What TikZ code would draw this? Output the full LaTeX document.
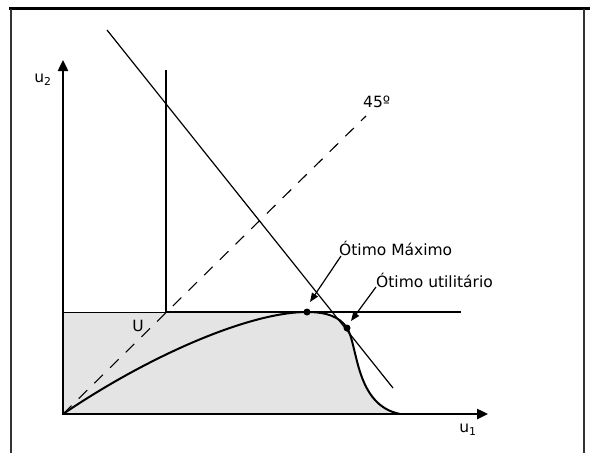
\documentclass[tikz,border=0pt]{standalone}
\usepackage{fontspec}
\setmainfont{DejaVu Sans}
\usetikzlibrary{arrows.meta,positioning}
\definecolor{FeasFill}{HTML}{E4E4E4}

\begin{document}
\begin{tikzpicture}[x=1pt,y=-1pt,font=\fontsize{15.5}{18}\selectfont]
    \tikzset{ax/.style={line width=2.4pt,-{Triangle[length=11pt,width=10pt]}},
      lbl/.style={inner sep=1pt},
      pt/.style={circle,fill=black,inner sep=0pt,minimum size=7pt},
      ptr/.style={line width=1.2pt,-{Triangle[length=9pt,width=7pt]}}}
    \useasboundingbox (0,0) rectangle (590,453);
    % frame
    \draw[line width=3pt] (9,8) -- (590,8);
    \draw[line width=1.6pt,black!80] (11,9) -- (11,453) (584,9) -- (584,453);
    % points
    \coordinate (O) at (63,414);
    \coordinate (Ytop) at (63,60);
    \coordinate (Xend) at (488,414);
    \coordinate (Ul) at (63,312);
    \coordinate (K) at (166,312);
    \coordinate (Kt) at (166,70);
    \coordinate (Kr) at (461,312);
    \coordinate (Lt) at (107,30);
    \coordinate (Lb) at (393,388);
    \coordinate (D) at (366,116);
    \coordinate (F) at (400,414);
    % feasible set
    \fill[FeasFill] (O) -- (Ul) -- (307,312)
      .. controls (327,312) and (340,317) .. (347,328)
      .. controls (358,345) and (355,405) .. (F) -- cycle;
    \draw[line width=1pt] (Ul) -- (K);
    \draw[line width=1.5pt] (K) -- (Kr);
    \draw[line width=2pt] (Kt) -- (K);
    \draw[dash pattern=on 12pt off 10pt,line width=1.1pt] (O) -- (D);
    \draw[line width=1.2pt] (Lt) -- (Lb);
    % frontier
    \draw[line width=2pt] (O) .. controls (150,355) and (250,312) .. (307,312)
      .. controls (327,312) and (340,317) .. (347,328)
      .. controls (358,345) and (355,405) .. (F);
    % axes
    \draw[ax] (O) -- (Ytop);
    \draw[ax] ([xshift=-1.2pt]O) -- (Xend);
    \node[lbl] (u2) at (43,80) {u\textsubscript{2}};
    \node[lbl] (u1) at (468,430) {u\textsubscript{1}};
    \node[lbl,anchor=west] (deg) at (362,102) {45º};
    \node[lbl] (U) at (138,326) {U};
    % optima
    \node[pt] (omax) at (307,312) {};
    \node[pt] (outil) at (347,328) {};
    \node[lbl,anchor=west] (tmax) at (338,248) {Ótimo Máximo};
    \node[lbl,anchor=west] (tutil) at (375,280) {Ótimo utilitário};
    \draw[ptr] (341,256) -- (310,302);
    \draw[ptr] (376,287) -- (351,321);
  \end{tikzpicture}
\end{document}
